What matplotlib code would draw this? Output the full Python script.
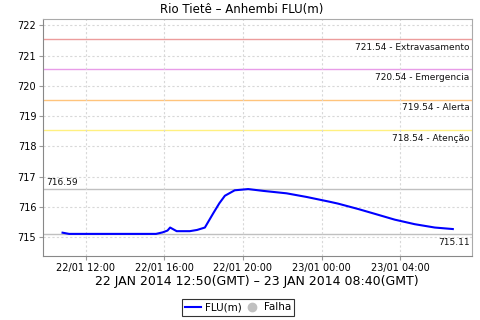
import datetime as dt
import matplotlib
matplotlib.use("Agg")
from matplotlib import pyplot as plt
import matplotlib.dates as mdates

# level readings (local time)
times = ["22/01 10:50", "22/01 11:00", "22/01 11:10", "22/01 12:00", "22/01 14:00",
         "22/01 15:35", "22/01 15:55", "22/01 16:10", "22/01 16:18", "22/01 16:38",
         "22/01 17:18", "22/01 17:40", "22/01 18:04", "22/01 18:30", "22/01 18:48",
         "22/01 19:05", "22/01 19:35", "22/01 20:16", "22/01 21:02", "22/01 22:13",
         "22/01 23:14", "23/01 00:25", "23/01 00:50", "23/01 01:52", "23/01 02:43",
         "23/01 03:43", "23/01 04:44", "23/01 05:45", "23/01 06:40"]
levels = [715.15, 715.13, 715.11, 715.11, 715.11,
          715.11, 715.16, 715.22, 715.32, 715.20,
          715.20, 715.24, 715.32, 715.80, 716.12,
          716.37, 716.55, 716.59, 716.53, 716.45,
          716.33, 716.17, 716.11, 715.93, 715.77,
          715.58, 715.43, 715.32, 715.27]

thresholds = [721.54, 720.54, 719.54, 718.54]
thr_names = ["Extravasamento", "Emergencia", "Alerta", "Atenção"]
thr_colors = ["#ec9c9c", "#e89ce8", "#ffc47c", "#fff080"]

vmax = 716.59
vmin = 715.11

def parse(s):
    d, hm = s.split()
    return dt.datetime(2014, 1, int(d[:2]), int(hm[:2]), int(hm[3:]))

tt = [parse(s) for s in times]

fig = plt.figure(figsize=(4.8, 3.2), dpi=100)
ax = fig.add_axes([0.090, 0.20, 0.893, 0.74])

for v, c in zip(thresholds, thr_colors):
    ax.axhline(v, color=c, lw=1, zorder=1)
ax.axhline(vmax, color="#c0c0c0", lw=1, zorder=1)
ax.axhline(vmin, color="#c0c0c0", lw=1, zorder=1)

ax.plot(tt, levels, color="#0000ff", lw=1.5, zorder=3, label="FLU(m)")
ax.plot([], [], "o", color="#c0c0c0", ms=6, label="Falha")

ax.set_ylim(714.38, 722.2)
ax.set_xlim(dt.datetime(2014, 1, 22, 9, 51), dt.datetime(2014, 1, 23, 7, 38))
ax.set_yticks(range(715, 723))
ax.xaxis.set_major_locator(mdates.HourLocator(byhour=[0, 4, 8, 12, 16, 20]))
ax.xaxis.set_major_formatter(mdates.DateFormatter("%d/%m %H:%M"))

ax.grid(True, ls=(0, (2, 2)), color="#d8d8d8", lw=0.8)
ax.tick_params(labelsize=7, length=3, color="#999999", labelcolor="black", pad=2)
for s in ax.spines.values():
    s.set_color("#aaaaaa")
ax.spines["left"].set_color("#888888")
ax.spines["bottom"].set_color("#888888")

for v, n in zip(thresholds, thr_names):
    ax.text(0.995, v - 0.12, "%.2f - %s" % (v, n), transform=ax.get_yaxis_transform(),
            ha="right", va="top", fontsize=6.5, color="#111111")
ax.text(0.007, vmax + 0.08, "%.2f" % vmax, transform=ax.get_yaxis_transform(),
        ha="left", va="bottom", fontsize=6.5, color="#111111")
ax.text(0.995, vmin - 0.12, "%.2f" % vmin, transform=ax.get_yaxis_transform(),
        ha="right", va="top", fontsize=6.5, color="#111111")

fig.text(0.504, 1 - 10 / 320, "Rio Tietê – Anhembi FLU(m)", ha="center", va="center", fontsize=8.5)
fig.text(0.535, 1 - 282 / 320, "22 JAN 2014 12:50(GMT) – 23 JAN 2014 08:40(GMT)",
         ha="center", va="center", fontsize=9)

leg = fig.legend(loc="center", bbox_to_anchor=(0.496, 1 - 307.5 / 320), ncol=2, fontsize=7.5,
                 frameon=True, fancybox=False, handlelength=1.5, handletextpad=0.35,
                 columnspacing=0.3, borderpad=0.3, borderaxespad=0)
leg.get_frame().set_edgecolor("black")
leg.get_frame().set_linewidth(0.8)

fig.savefig("out.png", dpi=100)
